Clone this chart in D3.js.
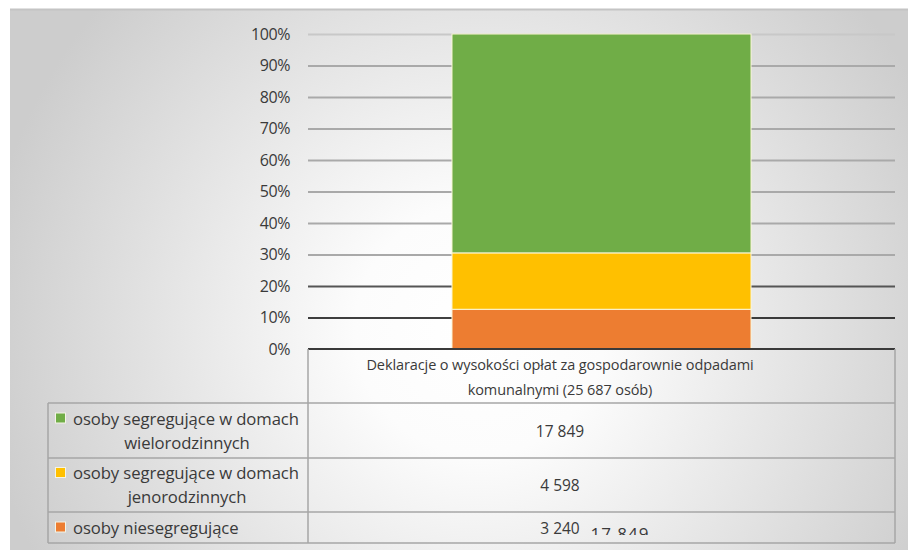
<!DOCTYPE html>
<html>
<head>
<meta charset="utf-8">
<script src="https://cdn.jsdelivr.net/npm/d3@7"></script>
<style>
  body { margin: 0; background: #fff; }
  svg { display: block; }
  text { font-family: "Open Sans", sans-serif; fill: #3a3a3a; }
</style>
</head>
<body>
<div id="chart"></div>
<script>
// data
const categories = ['Deklaracje o wysokości opłat za gospodarownie odpadami komunalnymi (25 687 osób)'];
const categoryLines = [['Deklaracje o wysokości opłat za gospodarownie odpadami', 'komunalnymi (25 687 osób)']];
const seriesNames = ['osoby segregujące w domach wielorodzinnych', 'osoby segregujące w domach jenorodzinnych', 'osoby niesegregujące'];
const seriesLines = [
    ['osoby segregujące w domach', 'wielorodzinnych'],
    ['osoby segregujące w domach', 'jenorodzinnych'],
    ['osoby niesegregujące']
];
const seriesValues = [17849, 4598, 3240];
const seriesColors = ['#70ad47', '#ffc000', '#ed7d31'];
const yTicks = [0, 0.1, 0.2, 0.3, 0.4, 0.5, 0.6, 0.7, 0.8, 0.9, 1];
const strayLabel = '17 849';

const width = 908, height = 550;
const plot = { left: 308, right: 895, top: 34, bottom: 349 };
const rowEdges = [349, 403, 458, 512, 543];
const legendLeft = 48;
const textX = 560;

const pl = d3.formatLocale({ decimal: ',', thousands: ' ', grouping: [3], currency: ['', ' zł'] });
const fmt = pl.format(',d');

const svg = d3.select('#chart').append('svg')
    .attr('width', width)
    .attr('height', height);

// background gradient
const defs = svg.append('defs');
const grad = defs.append('radialGradient')
    .attr('id', 'bg')
    .attr('gradientUnits', 'userSpaceOnUse')
    .attr('cx', 480).attr('cy', 330).attr('r', 500);
grad.append('stop').attr('offset', '0%').attr('stop-color', '#ffffff');
grad.append('stop').attr('offset', '25%').attr('stop-color', '#fcfcfc');
grad.append('stop').attr('offset', '100%').attr('stop-color', '#cdcdcd');

defs.append('clipPath').attr('id', 'strayClip')
    .append('rect').attr('x', 560).attr('y', 515).attr('width', 200).attr('height', 20);

svg.append('rect')
    .attr('x', 10).attr('y', 9)
    .attr('width', width - 10).attr('height', height - 9)
    .attr('fill', 'url(#bg)');
svg.append('line')
    .attr('x1', 10).attr('x2', width).attr('y1', 9.5).attr('y2', 9.5)
    .attr('stroke', '#c4c4c4').attr('stroke-width', 2);

// scales
const x = d3.scaleBand()
    .domain(categories)
    .range([plot.left, plot.right])
    .padding(0.325);

const y = d3.scaleLinear()
    .domain([0, 1])
    .range([plot.bottom, plot.top]);

// y axis with grid
const gridColor = d => d <= 0.1 + 1e-9 ? '#000000' : (d <= 0.2 + 1e-9 ? '#555555' : (d >= 1 ? '#c8c8c8' : '#a9a9a9'));

const yAxis = svg.append('g')
    .attr('transform', `translate(${plot.left},0)`)
    .call(d3.axisLeft(y)
        .tickValues(yTicks)
        .tickFormat(d3.format('.0%'))
        .tickSize(-(plot.right - plot.left))
        .tickPadding(18));
yAxis.select('.domain').remove();
yAxis.selectAll('.tick line')
    .attr('stroke', gridColor)
    .attr('stroke-width', d => d <= 0.1 + 1e-9 ? 1.5 : 2)
    .attr('display', d => d === 0 ? 'none' : null);
yAxis.selectAll('.tick text')
    .attr('font-size', 16)
    .attr('font-family', '"Open Sans", sans-serif')
    .attr('fill', '#3a3a3a')
    .attr('letter-spacing', -0.4);

// stacked bar
const rowData = categories.map(c => {
    const r = { category: c };
    seriesNames.forEach((s, i) => { r[s] = seriesValues[i]; });
    return r;
});
const stackKeys = seriesNames.slice().reverse();
const stacked = d3.stack().keys(stackKeys).offset(d3.stackOffsetExpand)(rowData);

svg.append('g')
    .selectAll('g')
    .data(stacked)
    .join('g')
    .attr('fill', d => seriesColors[seriesNames.indexOf(d.key)])
    .selectAll('rect')
    .data(d => d)
    .join('rect')
    .attr('x', d => x(d.data.category))
    .attr('width', x.bandwidth())
    .attr('y', d => y(d[1]))
    .attr('height', d => y(d[0]) - y(d[1]))
    .attr('stroke', '#fbf7d8')
    .attr('stroke-width', 1);

// data table
const table = svg.append('g');
const lineColor = '#a6a6a6';

// top border of the table (0% line)
table.append('line')
    .attr('x1', plot.left).attr('x2', plot.right)
    .attr('y1', y(0)).attr('y2', y(0))
    .attr('stroke', '#3a3a3a').attr('stroke-width', 2);

// horizontal row lines
table.selectAll('line.row')
    .data(rowEdges.slice(1))
    .join('line')
    .attr('class', 'row')
    .attr('x1', legendLeft).attr('x2', plot.right)
    .attr('y1', d => d).attr('y2', d => d)
    .attr('stroke', lineColor).attr('stroke-width', 1.5);

// verticals
table.append('line')
    .attr('x1', plot.left).attr('x2', plot.left)
    .attr('y1', rowEdges[0]).attr('y2', rowEdges[4])
    .attr('stroke', lineColor).attr('stroke-width', 1.5);
table.append('line')
    .attr('x1', plot.right).attr('x2', plot.right)
    .attr('y1', rowEdges[0]).attr('y2', rowEdges[4])
    .attr('stroke', lineColor).attr('stroke-width', 1.5);
table.append('line')
    .attr('x1', legendLeft).attr('x2', legendLeft)
    .attr('y1', rowEdges[1]).attr('y2', rowEdges[4])
    .attr('stroke', lineColor).attr('stroke-width', 1.5);

// header (category) text
const header = table.append('text')
    .attr('text-anchor', 'middle')
    .attr('font-size', 14.5)
    .attr('letter-spacing', -0.1);
categoryLines[0].forEach((t, i) => {
    header.append('tspan')
        .attr('x', textX)
        .attr('y', 370 + i * 25)
        .text(t);
});

// value cells
table.selectAll('text.val')
    .data(seriesValues)
    .join('text')
    .attr('class', 'val')
    .attr('x', textX)
    .attr('y', (d, i) => (rowEdges[i + 1] + rowEdges[i + 2]) / 2 + 6)
    .attr('text-anchor', 'middle')
    .attr('font-size', 15.5)
    .text(d => fmt(d));

// legend cells
const legendCenter = 187;
seriesLines.forEach((lines, i) => {
    const top = rowEdges[i + 1], bottom = rowEdges[i + 2];
    const mid = (top + bottom) / 2;
    const lineH = 24;
    const firstY = mid - (lines.length - 1) * lineH / 2 + 6;
    const t = table.append('text')
        .attr('font-size', 16.7)
        .attr('letter-spacing', -0.1);
    lines.forEach((l, j) => {
        t.append('tspan')
            .attr('x', j === 0 ? 73 : legendCenter)
            .attr('text-anchor', j === 0 ? 'start' : 'middle')
            .attr('y', firstY + j * lineH)
            .text(l);
    });
    table.append('rect')
        .attr('x', 55.5)
        .attr('y', firstY - 11.5)
        .attr('width', 10)
        .attr('height', 10)
        .attr('fill', seriesColors[i])
        .attr('stroke', '#f4f4e6')
        .attr('stroke-width', 1);
});

// stray overlapping label
svg.append('text')
    .attr('clip-path', 'url(#strayClip)')
    .attr('x', 620)
    .attr('y', 540)
    .attr('text-anchor', 'middle')
    .attr('font-family', '"Liberation Sans", Arial, sans-serif')
    .attr('font-size', 17)
    .attr('letter-spacing', 1)
    .attr('fill', '#333')
    .text(strayLabel);
</script>
</body>
</html>
